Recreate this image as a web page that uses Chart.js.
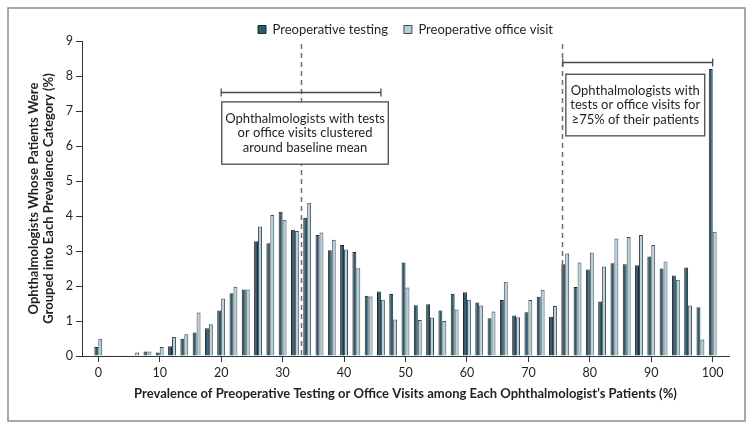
<!DOCTYPE html>
<html>
<head>
<meta charset="utf-8">
<script src="https://cdn.jsdelivr.net/npm/chart.js@4.4.1/dist/chart.umd.min.js"></script>
<style>
  html, body { margin: 0; padding: 0; background: #fff; }
  #chart { display: block; }
</style>
</head>
<body>
<canvas id="chart" width="754" height="431"></canvas>
<script>
// Prevalence category (% of each ophthalmologist's patients), one bar pair every 2%
const prevalence = [0, 2, 4, 6, 8, 10, 12, 14, 16, 18, 20, 22, 24, 26, 28, 30, 32, 34, 36, 38, 40,
    42, 44, 46, 48, 50, 52, 54, 56, 58, 60, 62, 64, 66, 68, 70, 72, 74, 76, 78, 80,
    82, 84, 86, 88, 90, 92, 94, 96, 98, 100];

// % of ophthalmologists falling in each category
const testingPct = [0.26, 0.02, 0.02, 0.02, 0.13, 0.10, 0.28, 0.49, 0.67, 0.79, 1.30,
    1.79, 1.90, 3.28, 3.22, 4.12, 3.61, 3.95, 3.46, 3.02, 3.17,
    2.97, 1.72, 1.84, 1.77, 2.67, 1.45, 1.48, 1.30, 1.78, 1.82,
    1.53, 1.08, 1.60, 1.16, 1.25, 1.69, 1.12, 2.62, 1.97, 2.47,
    1.56, 2.65, 2.62, 2.59, 2.84, 2.50, 2.30, 2.53, 1.39, 8.20];

const officeVisitPct = [0.49, 0.02, 0.02, 0.10, 0.13, 0.26, 0.54, 0.62, 1.24, 0.91, 1.64,
    1.98, 1.90, 3.70, 4.03, 3.89, 3.57, 4.38, 3.53, 3.32, 3.04,
    2.51, 1.70, 1.61, 1.04, 1.96, 1.03, 1.10, 1.00, 1.33, 1.61,
    1.44, 1.27, 2.12, 1.11, 1.60, 1.89, 1.43, 2.93, 2.67, 2.96,
    2.56, 3.36, 3.40, 3.46, 3.17, 2.70, 2.18, 1.44, 0.47, 3.55];

const xTicks = [0, 10, 20, 30, 40, 50, 60, 70, 80, 90, 100];
const yTicks = [0, 1, 2, 3, 4, 5, 6, 7, 8, 9];

// Dashed reference lines (prevalence %)
const dashedLines = [33, 75.4];

// Range brackets: [from %, to %, level]
const brackets = [
    [20, 46, 7.55],
    [75.6, 100, 8.4]
];

// Text boxes: [left %, right %, top, bottom, lines]
const noteBoxes = [
    [20.1, 47.2, 7.26, 5.48, ['Ophthalmologists with tests', 'or office visits clustered', 'around baseline mean']],
    [76.1, 98.7, 8.05, 6.29, ['Ophthalmologists with', 'tests or office visits for', '\u226575% of their patients']]
];

const FONT = 'Lato, "Open Sans", sans-serif';
const INK = '#231f20';

/**
 * Dashed lines, brackets and annotation boxes, placed through the scales
 */
const annotationPlugin = {
    id: 'annotations',
    afterDatasetsDraw(chart) {
        const { ctx, chartArea, scales: { x, y } } = chart;
        ctx.save();

        ctx.strokeStyle = '#6e6e6e';
        ctx.lineWidth = 1.5;
        ctx.setLineDash([5, 4]);
        dashedLines.forEach(v => {
            const px = Math.round(x.getPixelForValue(v)) + 0.5;
            ctx.beginPath();
            ctx.moveTo(px, chartArea.top + 3);
            ctx.lineTo(px, chartArea.bottom);
            ctx.stroke();
        });
        ctx.setLineDash([]);

        ctx.strokeStyle = '#4a4a4a';
        ctx.lineWidth = 1.3;
        brackets.forEach(([from, to, level]) => {
            const x1 = x.getPixelForValue(from);
            const x2 = x.getPixelForValue(to);
            const py = Math.round(y.getPixelForValue(level)) + 0.5;
            ctx.beginPath();
            ctx.moveTo(x1, py); ctx.lineTo(x2, py);
            ctx.moveTo(x1, py - 4); ctx.lineTo(x1, py + 4);
            ctx.moveTo(x2, py - 4); ctx.lineTo(x2, py + 4);
            ctx.stroke();
        });

        ctx.font = '13px ' + FONT;
        ctx.textAlign = 'center';
        ctx.textBaseline = 'middle';
        noteBoxes.forEach(([l, r, t, b, lines]) => {
            const x1 = x.getPixelForValue(l);
            const x2 = x.getPixelForValue(r);
            const y1 = y.getPixelForValue(t);
            const y2 = y.getPixelForValue(b);
            ctx.fillStyle = '#fff';
            ctx.fillRect(x1, y1, x2 - x1, y2 - y1);
            ctx.strokeStyle = '#4a4a4a';
            ctx.lineWidth = 1.3;
            ctx.strokeRect(x1, y1, x2 - x1, y2 - y1);
            ctx.fillStyle = INK;
            const cx = (x1 + x2) / 2;
            const cy = (y1 + y2) / 2;
            lines.forEach((txt, i) => {
                ctx.fillText(txt, cx, cy + (i - (lines.length - 1) / 2) * 14.3);
            });
        });
        ctx.restore();
    }
};

// Grey frame round the whole figure
const framePlugin = {
    id: 'frame',
    afterDraw(chart) {
        const { ctx } = chart;
        ctx.save();
        ctx.strokeStyle = '#8c8c8c';
        ctx.lineWidth = 1.5;
        ctx.strokeRect(8, 8, 737, 413);
        ctx.restore();
    }
};

new Chart(document.getElementById('chart'), {
    type: 'bar',
    data: {
        datasets: [
            {
                label: 'Preoperative testing',
                data: prevalence.map((p, i) => ({ x: p, y: testingPct[i] })),
                backgroundColor: '#2e5a6c',
                borderColor: '#1a2830',
                borderWidth: 1,
            },
            {
                label: 'Preoperative office visit',
                data: prevalence.map((p, i) => ({ x: p, y: officeVisitPct[i] })),
                backgroundColor: '#b6d0dc',
                borderColor: '#3e4a50',
                borderWidth: 1,
            }
        ]
    },
    options: {
        responsive: false,
        animation: false,
        devicePixelRatio: 1,
        layout: { padding: { top: 7, right: 25, bottom: 0, left: 0 } },
        datasets: { bar: { categoryPercentage: 0.64, barPercentage: 1 } },
        plugins: {
            legend: {
                position: 'top',
                fullSize: false,
                maxHeight: 34,
                labels: {
                    boxWidth: 8,
                    boxHeight: 8,
                    padding: 16,
                    color: INK,
                    font: { family: FONT, size: 13 }
                }
            },
            tooltip: { enabled: false }
        },
        scales: {
            x: {
                type: 'linear',
                min: -2.65,
                max: 102.65,
                offset: false,
                afterFit: s => { s.height = 75; },
                afterBuildTicks: s => { s.ticks = xTicks.map(v => ({ value: v })); },
                grid: { offset: false, drawOnChartArea: false, tickLength: 6, tickColor: '#333', tickWidth: 1 },
                border: { color: '#333', width: 1 },
                ticks: { padding: 3, color: INK, font: { family: FONT, size: 12.5 }, maxRotation: 0 },
                title: {
                    display: true,
                    text: 'Prevalence of Preoperative Testing or Office Visits among Each Ophthalmologist\u2019s Patients (%)',
                    color: INK,
                    font: { family: FONT, size: 13, weight: 'bold', lineHeight: 1.2 },
                    padding: { top: 0, bottom: 29 }
                }
            },
            y: {
                min: 0,
                max: 9,
                afterFit: s => { s.width = 82; },
                afterBuildTicks: s => { s.ticks = yTicks.map(v => ({ value: v })); },
                grid: { drawOnChartArea: false, tickLength: 6, tickColor: '#333', tickWidth: 1 },
                border: { color: '#333', width: 1 },
                ticks: { padding: 3, color: INK, font: { family: FONT, size: 12.5 } },
                title: {
                    display: true,
                    text: ['Ophthalmologists Whose Patients Were', 'Grouped into Each Prevalence Category (%)'],
                    color: INK,
                    font: { family: FONT, size: 13, weight: 'bold', lineHeight: 1.1 },
                    padding: { top: 27, bottom: 0 }
                }
            }
        }
    },
    plugins: [annotationPlugin, framePlugin]
});
</script>
</body>
</html>
